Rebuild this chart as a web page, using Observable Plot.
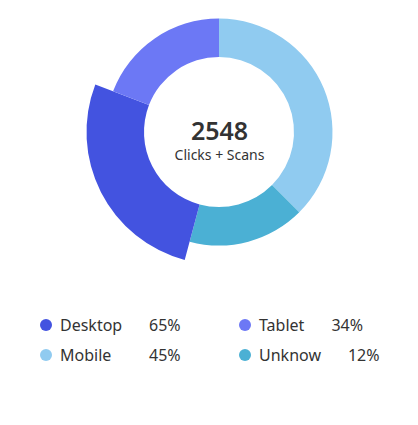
<!DOCTYPE html>
<html>
<head>
<meta charset="utf-8">
<script src="https://cdn.jsdelivr.net/npm/d3@7"></script>
<script src="https://cdn.jsdelivr.net/npm/@observablehq/plot@0.6"></script>
<style>
  body { margin: 0; background: #fff; font-family: "Noto Sans", sans-serif; }
  #chart { width: 418px; }
  .legend { margin-top: 20px; }
  .row { display: flex; align-items: center; height: 30px; color: #333; font-size: 16px; }
  .item { display: flex; align-items: center; }
  .item.c1 { margin-left: 40px; width: 199px; }
  .dot { width: 12px; height: 12px; border-radius: 50%; margin-right: 8px; flex: none; }
  .c1 .lab { width: 89px; }
  .c2 .lab { margin-right: 27px; }
</style>
</head>
<body>
<div id="chart"></div>
<script>
// Slices in drawing order (clockwise from 12 o'clock)
const sliceNames = ["Mobile", "Unknow", "Desktop", "Tablet"];
const sliceValues = [45, 20, 32, 23];
const sliceColors = ["#90cbf0", "#4bb0d4", "#4353e0", "#6c78f5"];
const explodedSlice = "Desktop";

// Centre label
const totalValue = "2548";
const totalLabel = "Clicks + Scans";

// Legend (two columns, two rows)
const legendNames = ["Desktop", "Tablet", "Mobile", "Unknow"];
const legendPercents = ["65%", "34%", "45%", "12%"];
const legendColors = ["#4353e0", "#6c78f5", "#90cbf0", "#4bb0d4"];

const innerR = 75, outerR = 113.5, explodedR = 132.5;

const slices = sliceNames.map((name, i) => ({name, value: sliceValues[i], color: sliceColors[i]}));

function donutMark(index, scales, values, dimensions) {
  const cx = scales.x(0), cy = scales.y(0);
  const pie = d3.pie().sort(null).value(d => d.value).startAngle(0).endAngle(2 * Math.PI);
  const arcs = pie(slices);
  const g = d3.create("svg:g").attr("transform", `translate(${cx},${cy})`);
  g.selectAll("path")
    .data(arcs)
    .join("path")
    .attr("fill", d => d.data.color)
    .attr("d", d => d3.arc()
      .innerRadius(innerR)
      .outerRadius(d.data.name === explodedSlice ? explodedR : outerR)(d));
  return g.node();
}

const chart = Plot.plot({
  width: 418,
  height: 290,
  marginLeft: 20,
  marginRight: 0,
  marginTop: 0,
  marginBottom: 26,
  x: {domain: [-1, 1], axis: null},
  y: {domain: [-1, 1], axis: null},
  style: {fontFamily: "Noto Sans", background: "#fff"},
  marks: [
    donutMark,
    Plot.text([totalValue], {frameAnchor: "middle", text: d => d, dy: -1, fontSize: 25, fontWeight: 600, fill: "#333"}),
    Plot.text([totalLabel], {frameAnchor: "middle", text: d => d, dy: 23.5, fontSize: 14, fill: "#333"})
  ]
});
document.getElementById("chart").appendChild(chart);

// Legend below the SVG
const legend = d3.select("#chart").append("div").attr("class", "legend");
for (let r = 0; r < 2; r++) {
  const row = legend.append("div").attr("class", "row");
  for (let c = 0; c < 2; c++) {
    const i = r * 2 + c;
    const item = row.append("div").attr("class", "item c" + (c + 1));
    item.append("span").attr("class", "dot").style("background", legendColors[i]);
    item.append("span").attr("class", "lab").text(legendNames[i]);
    item.append("span").attr("class", "val").text(legendPercents[i]);
  }
}
</script>
</body>
</html>
